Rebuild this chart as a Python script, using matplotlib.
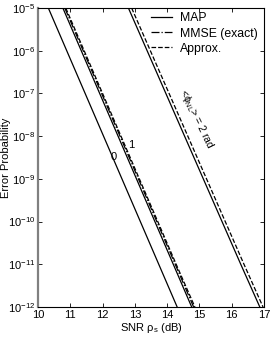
import matplotlib
matplotlib.use("Agg")
import matplotlib.pyplot as plt
import numpy as np

plt.rcParams['font.family'] = ['Liberation Sans', 'DejaVu Sans']

# Error probability levels (decades) and SNR (dB) read per curve
pe_levels = [1e-5, 1e-6, 1e-7, 1e-8, 1e-9, 1e-10, 1e-11, 1e-12]
snr_map_0 = [10.32, 10.89, 11.46, 12.03, 12.60, 13.17, 13.74, 14.31]
snr_map_1 = [10.77, 11.34, 11.91, 12.48, 13.05, 13.62, 14.19, 14.76]
snr_mmse_1 = [10.83, 11.40, 11.97, 12.54, 13.11, 13.68, 14.25, 14.82]
snr_appr_1 = [10.86, 11.43, 12.00, 12.57, 13.14, 13.71, 14.28, 14.86]
snr_map_2 = [12.80, 13.38, 13.96, 14.54, 15.12, 15.70, 16.28, 16.87]
snr_appr_2 = [12.90, 13.48, 14.06, 14.64, 15.22, 15.80, 16.38, 16.97]

x_ticks = [10, 11, 12, 13, 14, 15, 16, 17]
y_ticks = [1e-12, 1e-11, 1e-10, 1e-9, 1e-8, 1e-7, 1e-6, 1e-5]

fig = plt.figure(figsize=(2.74, 3.41), dpi=100)
ax = fig.add_axes([38/274, 1-307/341, 226/274, 299/341])

lw = 0.9
ax.plot(snr_map_0, pe_levels, 'k-', lw=lw, label='MAP')
ax.plot(snr_map_1, pe_levels, 'k-', lw=lw)
ax.plot(snr_mmse_1, pe_levels, 'k-.', lw=lw, label='MMSE (exact)')
ax.plot(snr_appr_1, pe_levels, 'k--', lw=lw, label='Approx.')
ax.plot(snr_map_2, pe_levels, 'k-', lw=lw)
ax.plot(snr_appr_2, pe_levels, 'k--', lw=lw)

ax.set_yscale('log')
ax.set_xlim(10, 17)
ax.set_ylim(1e-12, 1e-5)
ax.set_xticks(x_ticks)
ax.set_yticks(y_ticks)
ax.minorticks_off()
ax.tick_params(direction='in', top=True, right=True, labelsize=8, length=3, width=0.6, pad=2)
for s in ax.spines.values():
    s.set_linewidth(0.8)
ax.spines['left'].set_color('#808080')
ax.spines['left'].set_linewidth(1.6)

ax.set_xlabel(r'SNR $\mathregular{\rho_s}$ (dB)', fontsize=8, labelpad=1)
ax.set_ylabel('Error Probability', fontsize=8)
ax.yaxis.set_label_coords(-0.118, 0.5)

ax.text(12.34, 10**-8.49, '0', fontsize=8, ha='center', va='center')
ax.text(12.9, 10**-8.2, '1', fontsize=8, ha='center', va='center')
ax.text(14.92, 10**-7.6, r'<$\mathregular{\phi_{NL}}$> = 2 rad', fontsize=7.5,
        rotation=-64, ha='center', va='center', rotation_mode='anchor')

leg = ax.legend(loc='upper left', frameon=False, fontsize=8.8, handlelength=1.7,
                borderaxespad=0, borderpad=0, labelspacing=0.25, handletextpad=0.7,
                bbox_to_anchor=(0.50, 0.985))

fig.savefig('out.png', dpi=100)
